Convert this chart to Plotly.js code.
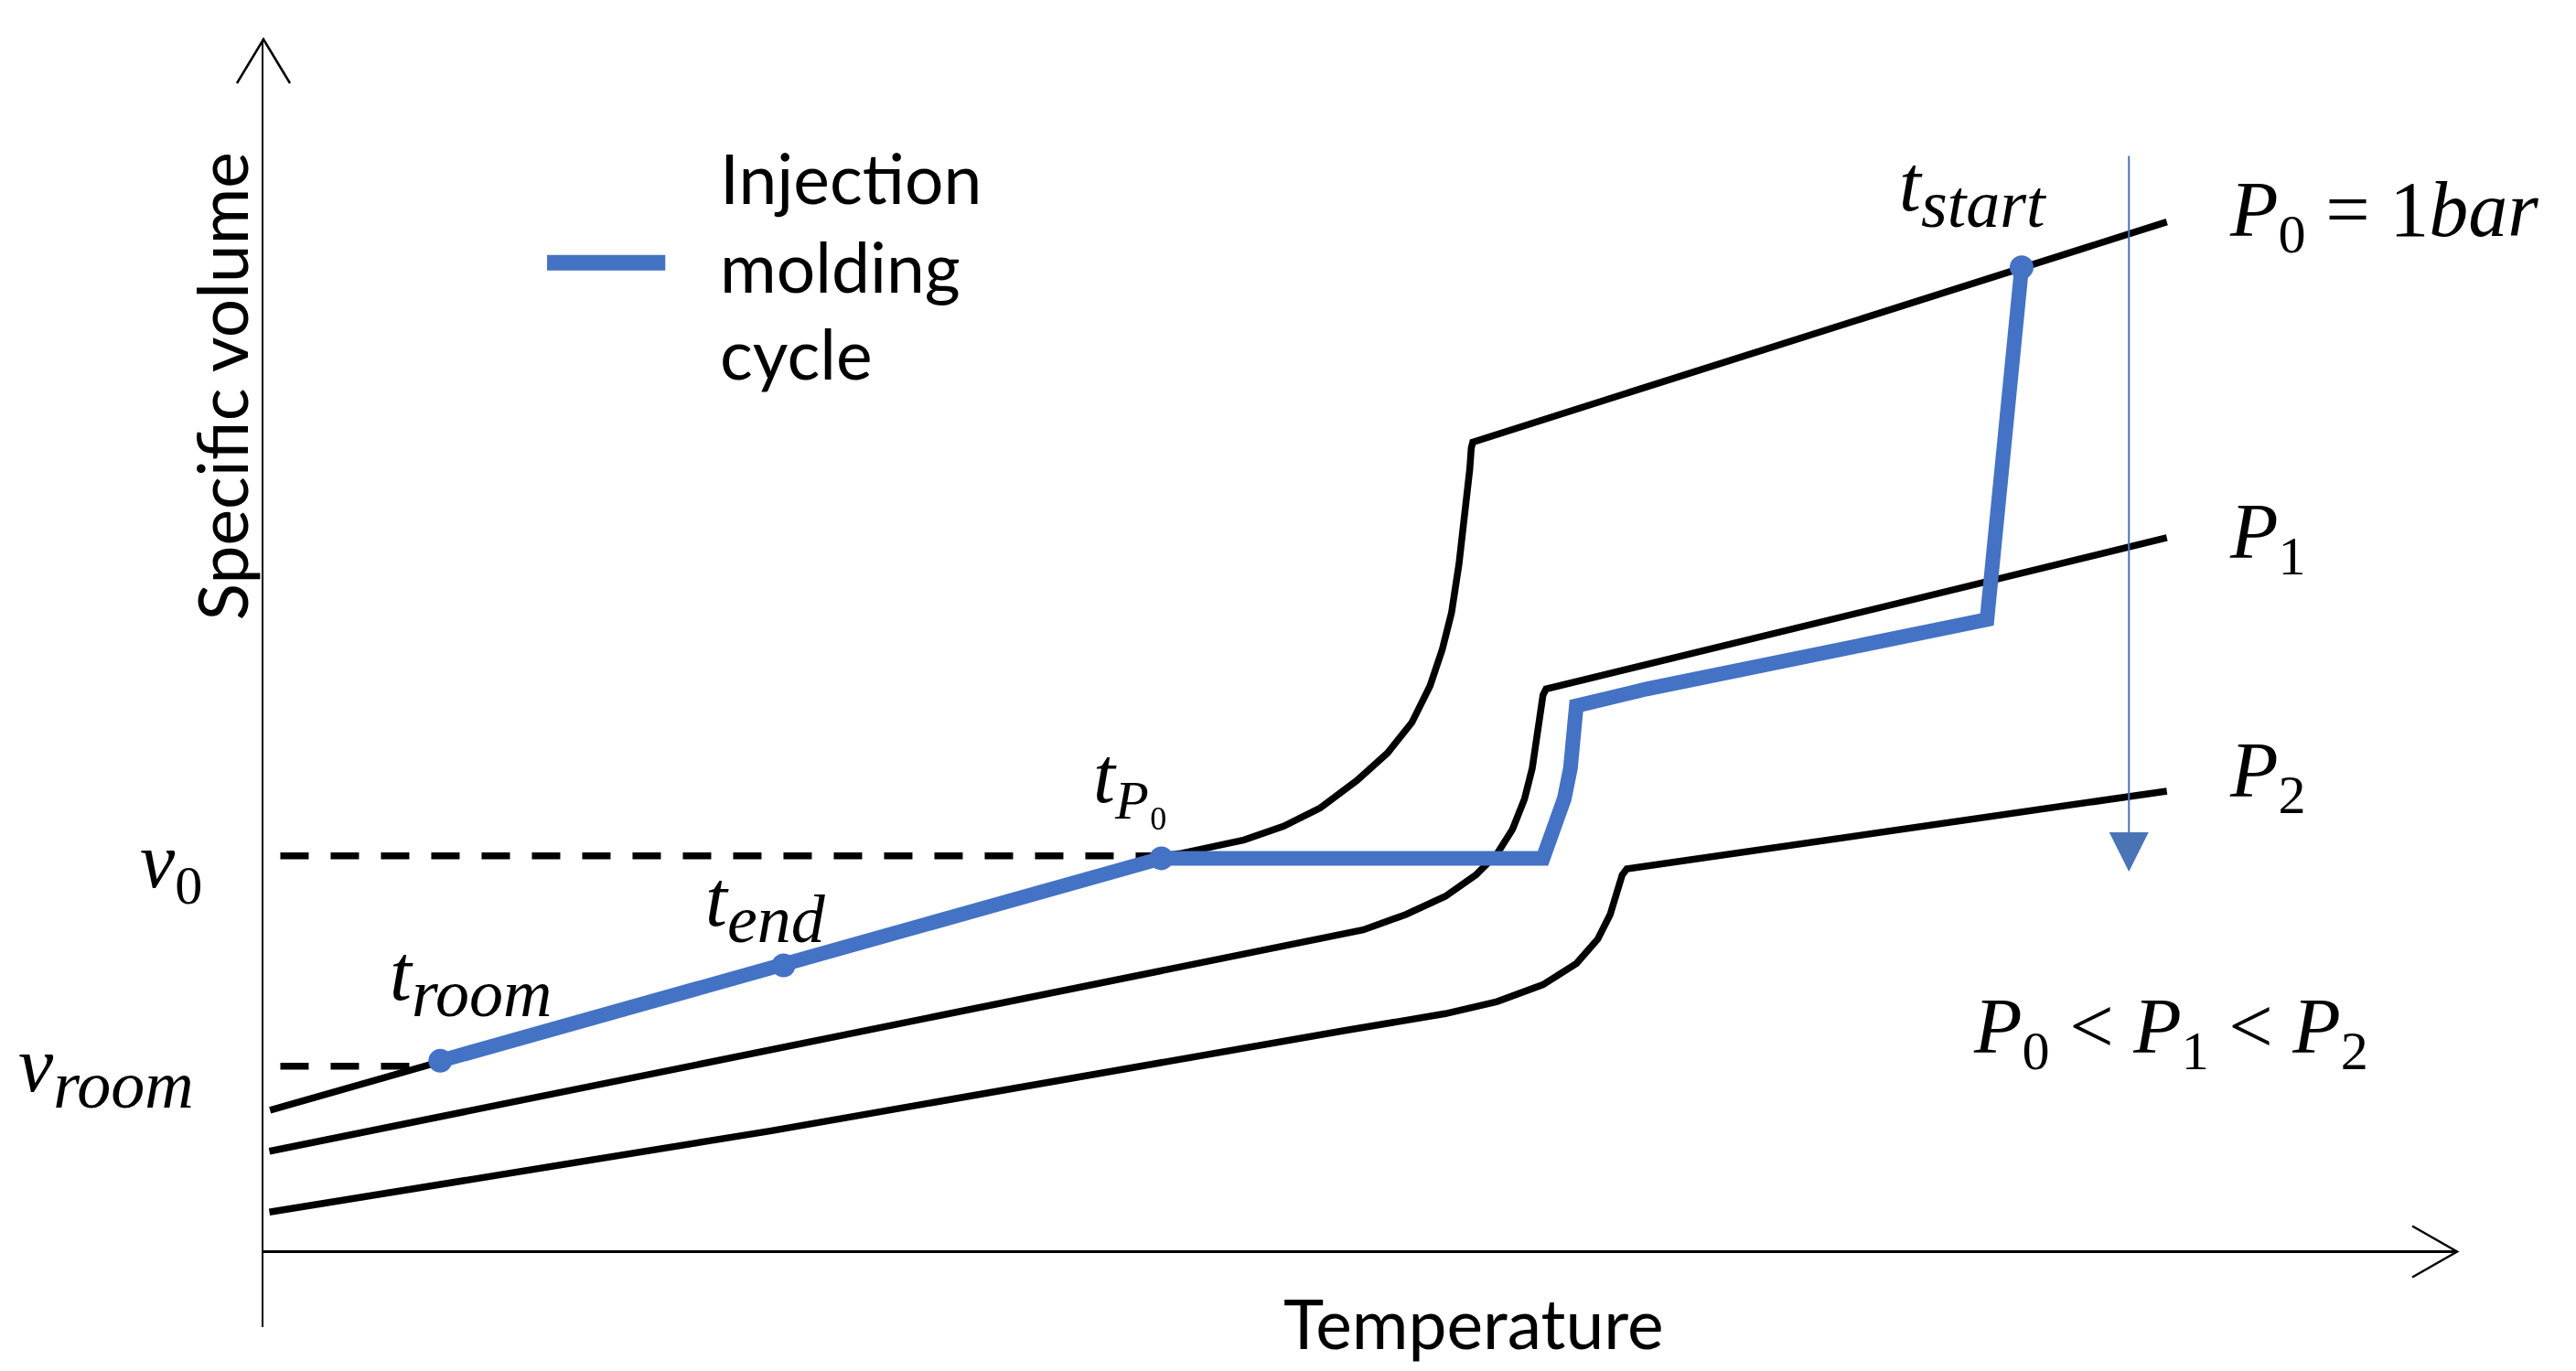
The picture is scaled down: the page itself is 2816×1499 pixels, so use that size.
<!DOCTYPE html>
<html><head><meta charset="utf-8">
<script src="https://cdn.plot.ly/plotly-3.0.1.min.js"></script>
<style>html,body{margin:0;padding:0;background:#fff}#chart{width:2816px;height:1499px}</style>
</head><body><div id="chart"></div>
<script>
// Schematic pvT diagram: temperature and specific volume in arbitrary units
const tempP0 = [0.3, 40.93, 41.78, 44.70, 46.51, 48.18, 49.85, 51.24, 52.35, 53.18, 53.74, 54.16, 54.50, 54.78, 54.99, 55.06, 55.13, 86.77];
const volP0  = [11.67, 32.62, 32.83, 33.96, 35.10, 36.61, 38.87, 41.13, 43.64, 46.66, 49.68, 52.70, 56.72, 60.75, 64.52, 66.28, 66.78, 84.94];

const tempP1 = [0.27, 50.13, 52.07, 53.88, 55.27, 56.24, 56.94, 57.49, 57.84, 58.05, 58.26, 58.33, 58.47, 86.77];
const volP1  = [8.28, 26.54, 27.80, 29.31, 31.07, 32.83, 34.84, 37.36, 39.87, 42.38, 44.90, 45.91, 46.41, 58.89];

const tempP2 = [0.27, 23.09, 49.29, 53.88, 56.24, 58.33, 59.86, 60.83, 61.39, 61.73, 61.94, 62.15, 86.77];
const volP2  = [3.26, 9.95, 18.24, 19.63, 20.63, 22.02, 23.78, 25.79, 27.80, 29.81, 31.07, 31.57, 37.99];

const cycleTemp = [8.06, 23.71, 40.93, 58.33, 58.88, 59.30, 59.58, 59.72, 59.79, 59.85, 63.05, 69.30, 78.57, 80.15];
const cycleVol  = [15.74, 23.61, 32.45, 32.45, 34.84, 37.36, 39.87, 42.38, 44.90, 45.02, 46.41, 48.73, 52.14, 81.20];

const stateNames = ["t_room", "t_end", "t_P0", "t_start"];
const stateTemp  = [8.06, 23.71, 40.93, 80.15];
const stateVol   = [15.74, 23.61, 32.45, 81.20];

const v0Level = 32.65;
const vRoomLevel = 15.3;
const refStartTemp = 0.77;
const vRoomEndTemp = 7.31;

const pressureArrowTemp = 85.04;
const pressureArrowFrom = 90.5;
const pressureArrowTo = 31.34;

const xRange = [0, 100];
const yRange = [-6.224, 100];

const BLACK = '#000000';
const BLUE = '#4472C4';
const MATH = 'Liberation Serif';
const SANS = 'Lato';

const curveLine = {color: BLACK, width: 7.5};

const traces = [
  {x: tempP0, y: volP0, mode: 'lines', line: curveLine, name: 'P0'},
  {x: tempP1, y: volP1, mode: 'lines', line: curveLine, name: 'P1'},
  {x: tempP2, y: volP2, mode: 'lines', line: curveLine, name: 'P2'},
  {x: [refStartTemp, stateTemp[2]], y: [v0Level, v0Level], mode: 'lines',
   line: {color: BLACK, width: 7.5, dash: '31px,24px'}, name: 'v0'},
  {x: [refStartTemp, vRoomEndTemp], y: [vRoomLevel, vRoomLevel], mode: 'lines',
   line: {color: BLACK, width: 7.5, dash: '31px,24px'}, name: 'vroom'},
  {x: cycleTemp, y: cycleVol, mode: 'lines', line: {color: BLUE, width: 16}, name: 'cycle'},
  {x: stateTemp, y: stateVol, mode: 'markers', text: stateNames,
   marker: {color: BLUE, size: 26}, name: 'states'}
];

const yZeroPaper = (0 - yRange[0]) / (yRange[1] - yRange[0]);

function sub(word) {
  return '<sub><span style="font-size:74px"><i>' + word + '</i></span></sub>';
}
function mathNote(text, x, y) {
  return {text: text, xref: 'paper', yref: 'paper', x: x, y: y, xanchor: 'left', yanchor: 'middle',
          showarrow: false, font: {family: MATH, size: 86, color: BLACK}};
}
function sansNote(text, x, y, extra) {
  return Object.assign({text: text, xref: 'paper', yref: 'paper', x: x, y: y, xanchor: 'left', yanchor: 'middle',
          showarrow: false, font: {family: SANS, size: 75, color: BLACK}}, extra || {});
}

const annotations = [
  sansNote('Specific volume', -0.0190, 0.7308, {xanchor: 'center', textangle: -90}),
  sansNote('Temperature', 0.5517, 0.0038, {xanchor: 'center'}),
  sansNote('Injection', 0.2072, 0.8928),
  sansNote('molding', 0.2072, 0.8239),
  sansNote('cycle', 0.2072, 0.7564),
  mathNote('<i>t</i>' + sub('start'), 0.7449, 0.8826),
  mathNote('<i>P</i><sub>0</sub> = 1<i>bar</i>', 0.8954, 0.8634),
  mathNote('<i>P</i><sub>1</sub>', 0.8954, 0.6134),
  mathNote('<i>P</i><sub>2</sub>', 0.8954, 0.4285),
  mathNote('<i>t</i><sub><i>P</i>\u2080</sub>', 0.3772, 0.4241),
  mathNote('<i>t</i>' + sub('end'), 0.2004, 0.3271),
  mathNote('<i>t</i>' + sub('room'), 0.0566, 0.2697),
  mathNote('<i>v</i><sub>0</sub>', -0.0572, 0.3577),
  mathNote('<i>v</i>' + sub('room'), -0.1126, 0.1983),
  mathNote('<i>P</i><sub>0</sub> &lt; <i>P</i><sub>1</sub> &lt; <i>P</i><sub>2</sub>', 0.7786, 0.2295),
  {x: pressureArrowTemp, y: pressureArrowTo, ax: pressureArrowTemp, ay: pressureArrowFrom,
   xref: 'x', yref: 'y', axref: 'x', ayref: 'y', text: '', showarrow: true,
   arrowhead: 2, arrowsize: 4.3, arrowwidth: 2, arrowcolor: '#4a74b6', standoff: 0}
];

const shapes = [
  // open arrow heads of the two axes
  {type: 'path', xref: 'paper', yref: 'paper', xsizemode: 'pixel', ysizemode: 'pixel',
   xanchor: 0, yanchor: 1, path: 'M-29,-48 L0,0 L29,-48', line: {color: BLACK, width: 2.5}},
  {type: 'path', xref: 'paper', yref: 'paper', xsizemode: 'pixel', ysizemode: 'pixel',
   xanchor: 1, yanchor: yZeroPaper, path: 'M-49,28 L0,0 L-49,-28', line: {color: BLACK, width: 2.5}},
  // legend sample line
  {type: 'line', xref: 'paper', yref: 'paper', x0: 0.1293, x1: 0.1832, y0: 0.8265, y1: 0.8265,
   line: {color: BLUE, width: 17}}
];

const layout = {
  width: 2816, height: 1499,
  margin: {l: 288, r: 130, t: 43, b: 48},
  paper_bgcolor: '#ffffff', plot_bgcolor: '#ffffff',
  showlegend: false, hovermode: false,
  xaxis: {range: xRange, showgrid: false, zeroline: false, showline: false,
          showticklabels: false, ticks: '', fixedrange: true},
  yaxis: {range: yRange, showgrid: false, zeroline: true, zerolinecolor: BLACK, zerolinewidth: 3,
          showline: true, linecolor: BLACK, linewidth: 2.5, showticklabels: false, ticks: '', fixedrange: true},
  annotations: annotations,
  shapes: shapes
};

Plotly.newPlot('chart', traces, layout, {staticPlot: true, displayModeBar: false});
</script></body></html>
